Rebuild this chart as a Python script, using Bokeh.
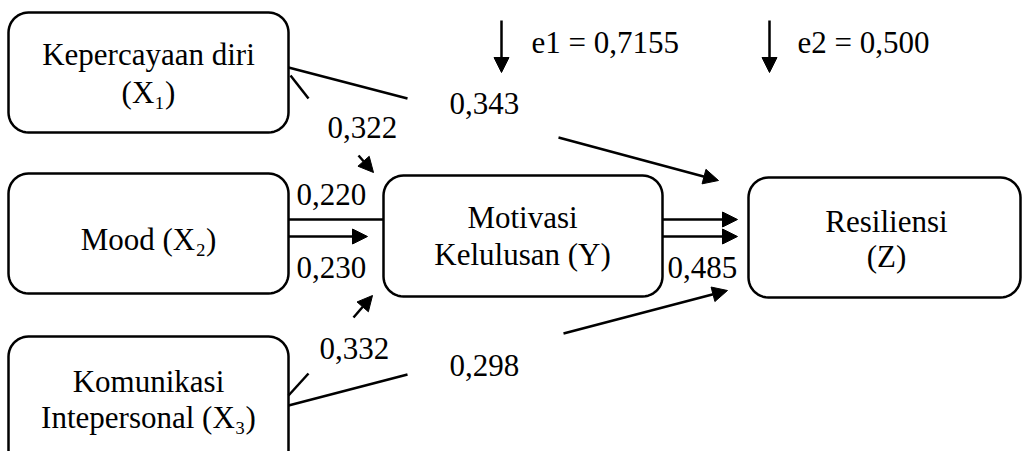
import numpy as np
from bokeh.plotting import figure
from bokeh.models import Range1d, ColumnDataSource, Arrow, NormalHead
from bokeh.core.properties import value
from bokeh.embed import file_html
from bokeh.resources import INLINE

# ---------------- data ----------------
node_ids = ["X1", "X2", "X3", "Y", "Z"]
node_lines = [
    ["Kepercayaan diri", "(X\u2081)"],
    ["Mood (X\u2082)"],
    ["Komunikasi", "Intepersonal (X\u2083)"],
    ["Motivasi", "Kelulusan (Y)"],
    ["Resiliensi", "(Z)"],
]
path_from = ["X1", "X2", "X2", "X3", "X1", "Y", "X3"]
path_to = ["Y", "Y", "Y", "Y", "Z", "Z", "Z"]
path_coef = ["0,322", "0,220", "0,230", "0,332", "0,343", "0,485", "0,298"]
error_names = ["e1", "e2"]
error_values = ["0,7155", "0,500"]

# ---------------- layout (pixel positions of the drawing) ----------------
FONT = value("Liberation Serif")
FS = "31px"
LW = 2.5
DY = -11  # baseline correction

box_pos = {  # left, right, top, bottom
    "X1": (8, 288, 12, 132),
    "X2": (8, 288, 173, 293),
    "X3": (8, 288, 336, 470),
    "Y": (383, 662, 175, 296),
    "Z": (748, 1020, 177, 297),
}
box_text = {  # center x, baselines
    "X1": (148, [65, 103]),
    "X2": (148, [250]),
    "X3": (148, [392, 428]),
    "Y": (522, [228, 265]),
    "Z": (886, [232, 267]),
}
# for every path: plain segments and arrow segments (x0, y0, x1, y1)
path_lines = [
    ([(290, 75, 308, 98)], [(358, 155, 373, 172)]),
    ([(288, 219, 383, 219)], []),
    ([], [(288, 236, 367, 236)]),
    ([(288, 395, 308, 373)], [(353, 317, 372, 295)]),
    ([(288, 67, 407, 98)], [(558, 137, 718, 180)]),
    ([], [(662, 219, 737, 219), (662, 236, 737, 236)]),
    ([(288, 405, 407, 374)], [(563, 333, 727, 290)]),
]
coef_pos = [(327, 138), (296, 205), (296, 278), (319, 359), (449, 114), (667, 278), (449, 376)]
err_arrow_x = [501, 769]
err_arrow_y = (20, 72)
err_text_pos = [(531, 53), (797, 53)]


def rounded_rect(l, r, t, b, rad=20, n=12):
    xs, ys = [], []
    corners = [(r - rad, t + rad, -np.pi / 2, 0), (r - rad, b - rad, 0, np.pi / 2),
               (l + rad, b - rad, np.pi / 2, np.pi), (l + rad, t + rad, np.pi, 1.5 * np.pi)]
    for cx, cy, a0, a1 in corners:
        a = np.linspace(a0, a1, n)
        xs.extend(cx + rad * np.cos(a))
        ys.extend(cy + rad * np.sin(a))
    return xs, ys


p = figure(width=1022, height=451, output_backend="svg", toolbar_location=None,
           x_range=Range1d(0, 1022), y_range=Range1d(451, 0), min_border=0)
p.axis.visible = False
p.grid.visible = False
p.outline_line_color = None
p.background_fill_color = "white"

# boxes
bx, by = [], []
for nid in node_ids:
    xs, ys = rounded_rect(*box_pos[nid])
    bx.append(xs)
    by.append(ys)
p.patches(bx, by, fill_color="white", line_color="black", line_width=LW)

# box labels
tx, ty, tt = [], [], []
for nid, lines in zip(node_ids, node_lines):
    cx, bls = box_text[nid]
    for line, bl in zip(lines, bls):
        tx.append(cx)
        ty.append(bl + DY)
        tt.append(line)
p.text(x=tx, y=ty, text=tt, text_font=FONT, text_font_size=FS, text_align="center",
       text_baseline="alphabetic", text_color="black")

# paths
sx0, sy0, sx1, sy1 = [], [], [], []
ax0, ay0, ax1, ay1 = [], [], [], []
for plain, arrows in path_lines:
    for (a, b, c, d) in plain:
        sx0.append(a); sy0.append(b); sx1.append(c); sy1.append(d)
    for (a, b, c, d) in arrows:
        ax0.append(a); ay0.append(b); ax1.append(c); ay1.append(d)
for x in err_arrow_x:
    ax0.append(x); ay0.append(err_arrow_y[0]); ax1.append(x); ay1.append(err_arrow_y[1])

p.segment(x0=sx0, y0=sy0, x1=sx1, y1=sy1, line_color="black", line_width=LW)
asrc = ColumnDataSource(dict(x0=ax0, y0=ay0, x1=ax1, y1=ay1))
p.add_layout(Arrow(x_start="x0", y_start="y0", x_end="x1", y_end="y1", source=asrc,
                   line_color="black", line_width=LW,
                   end=NormalHead(size=15, fill_color="black", line_color="black", line_width=1)))

# coefficient labels
p.text(x=[c[0] for c in coef_pos], y=[c[1] + DY for c in coef_pos], text=path_coef,
       text_font=FONT, text_font_size=FS, text_align="left", text_baseline="alphabetic",
       text_color="black")

# error terms
p.text(x=[c[0] for c in err_text_pos], y=[c[1] + DY for c in err_text_pos],
       text=[f"{n} = {v}" for n, v in zip(error_names, error_values)],
       text_font=FONT, text_font_size=FS, text_align="left", text_baseline="alphabetic",
       text_color="black")

open("out.html", "w").write(file_html(p, INLINE))
